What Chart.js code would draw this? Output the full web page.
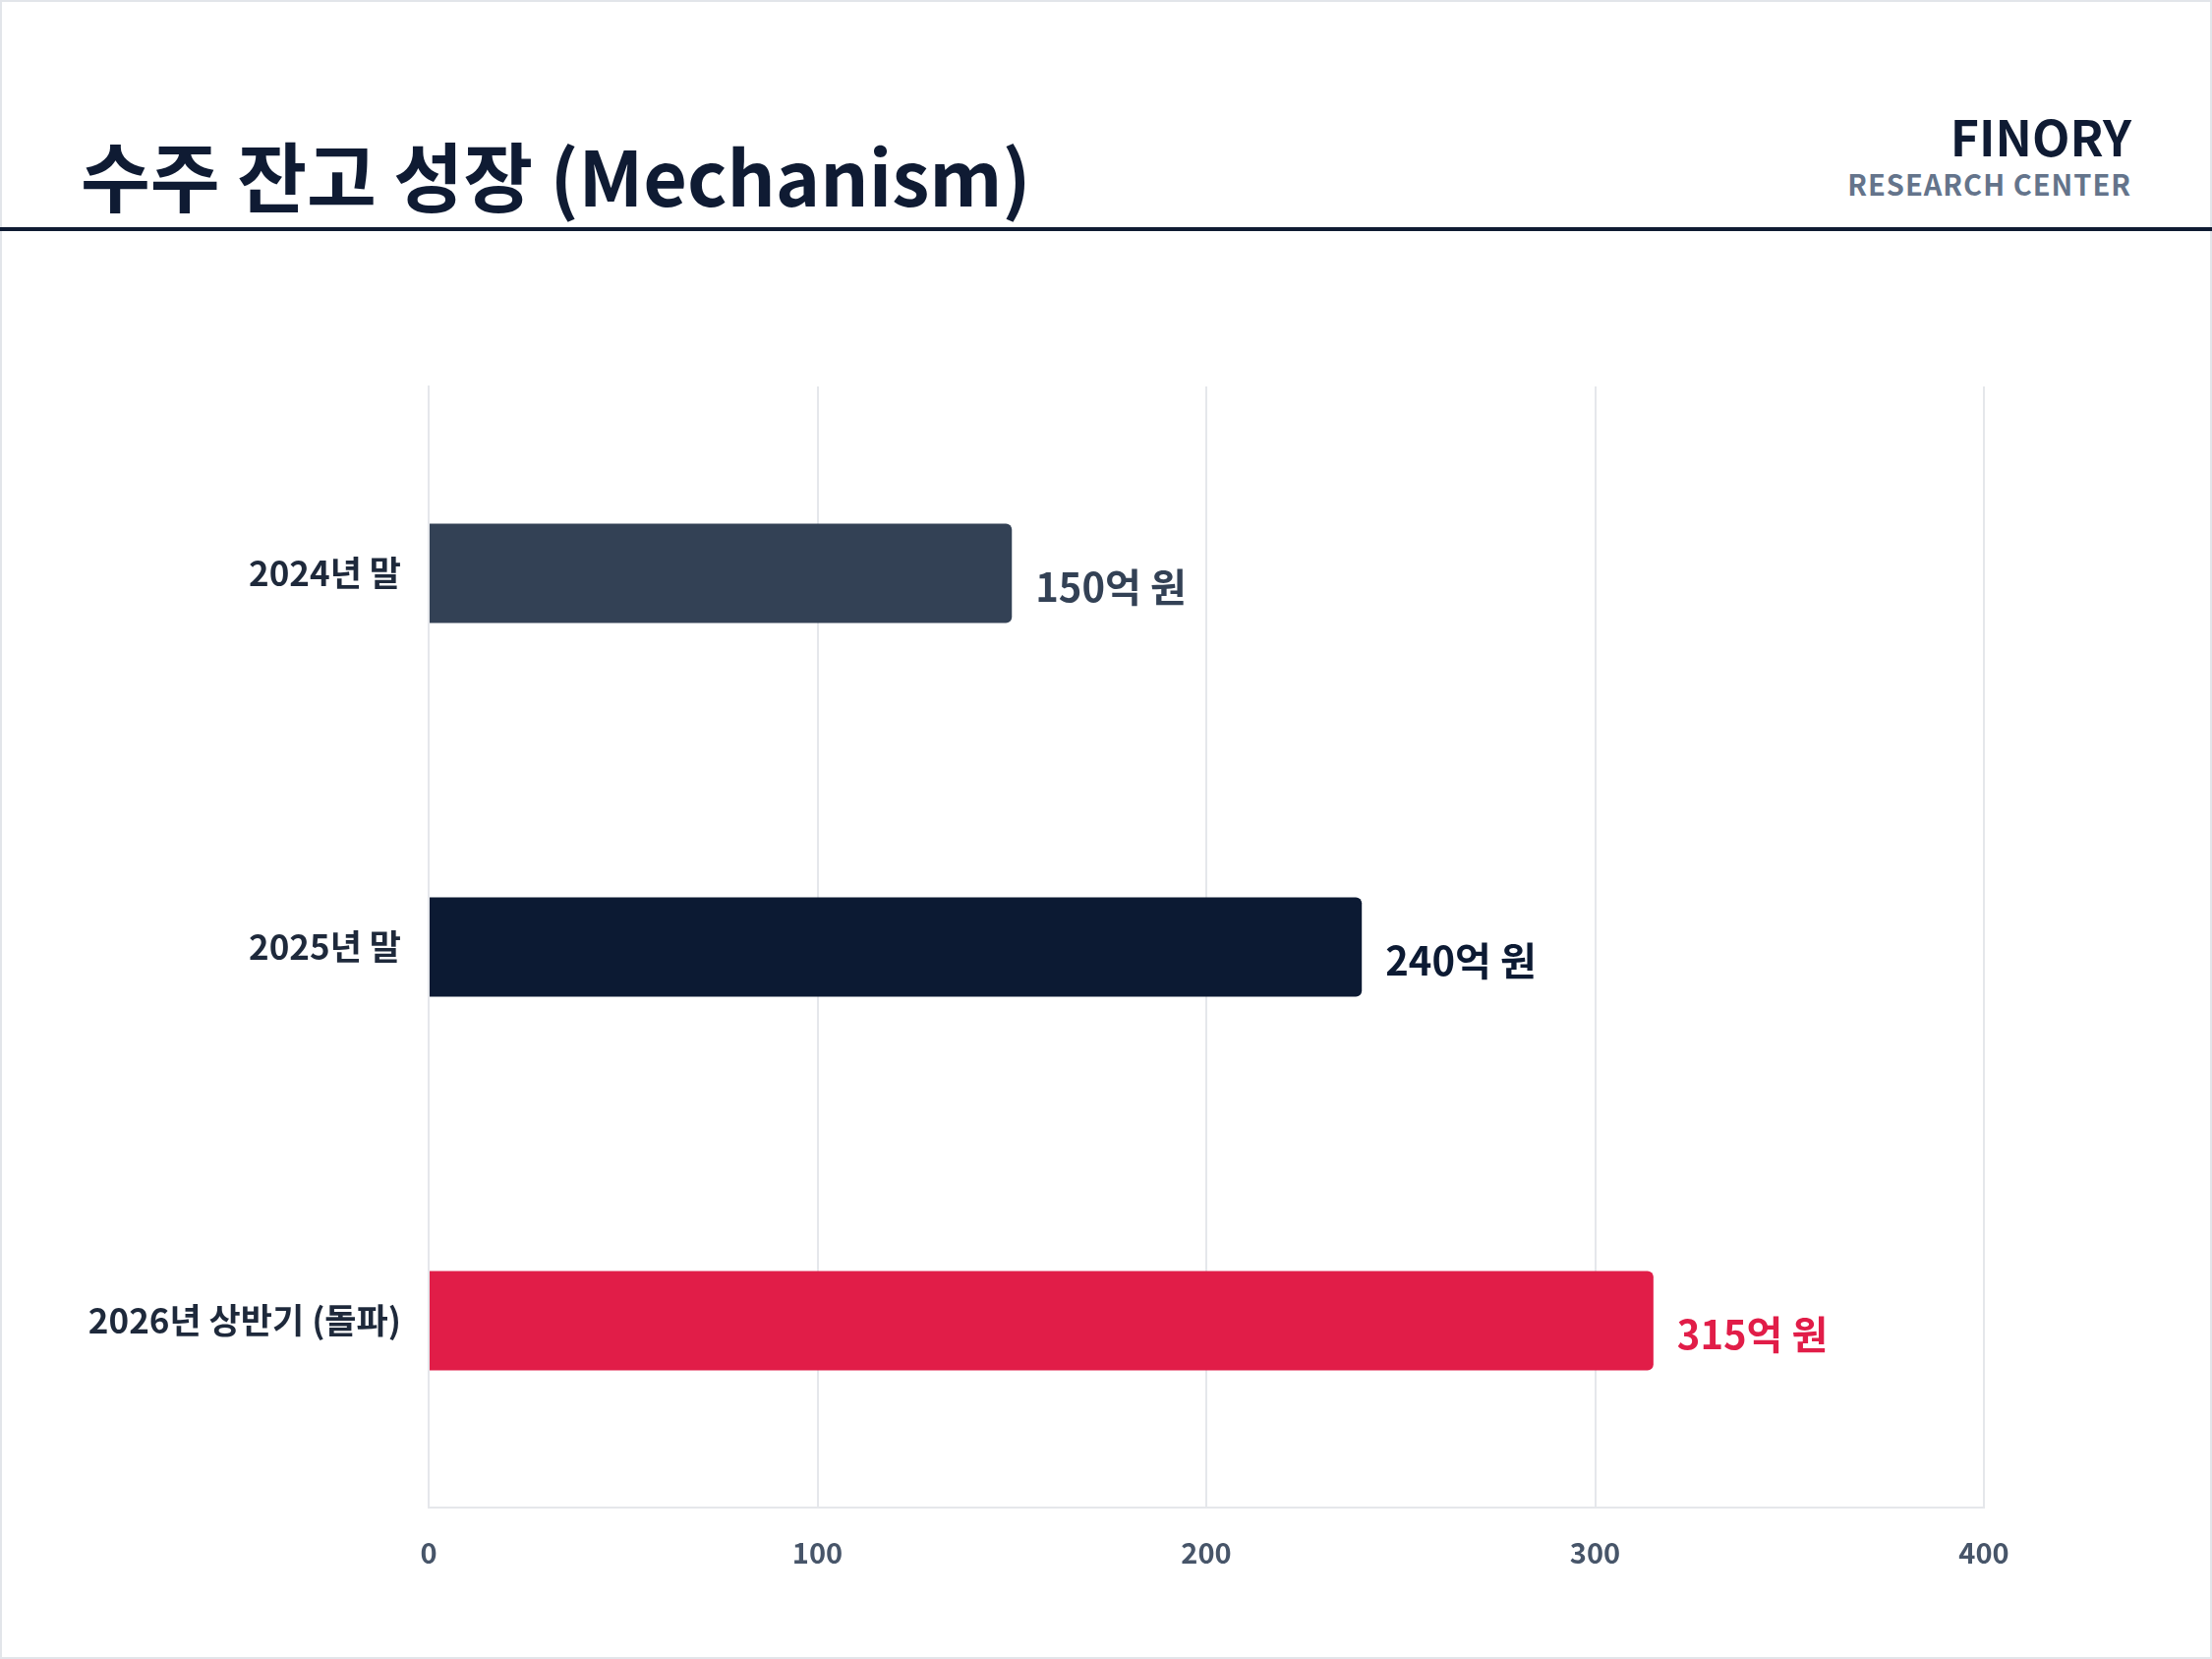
<!DOCTYPE html>
<html><head><meta charset="utf-8">
<script src="https://cdn.jsdelivr.net/npm/chart.js@4"></script>
<style>
body{margin:0;width:2250px;height:1687px;background:#fff;font-family:"Noto Sans CJK KR","Noto Sans",sans-serif;overflow:hidden}
.frame{position:absolute;left:0;top:0;width:2246px;height:1683px;border:2px solid #e2e5ea}
h1{position:absolute;left:82px;top:138px;margin:0;font-size:77px;font-weight:700;color:#0f1b33;line-height:1}
.brand{position:absolute;right:82px;top:112px;text-align:right}
.brand .b1{font-size:50px;font-weight:700;color:#0f1b33;line-height:1}
.brand .b2{font-size:29px;font-weight:700;color:#64748b;margin-top:10px;line-height:1;letter-spacing:1px}
.rule{position:absolute;left:0;top:231px;width:2250px;height:4px;background:#0f1b33}
#wrap{position:absolute;left:0;top:352px;width:2250px;height:1261px}
</style></head><body>
<div class="frame"></div>
<h1>수주 잔고 성장 (Mechanism)</h1>
<div class="brand"><div class="b1">FINORY</div><div class="b2">RESEARCH CENTER</div></div>
<div class="rule"></div>
<div id="wrap"><canvas id="c"></canvas></div>
<script>
const categories = ["2024년 말", "2025년 말", "2026년 상반기 (돌파)"];
const values = [150, 240, 315];
const valueLabels = ["150억 원", "240억 원", "315억 원"];
const barColors = ["#334155", "#0c1a33", "#e11d48"];
const labelColors = ["#334155", "#0c1a33", "#e11d48"];
const FONT = '"Noto Sans CJK KR","Noto Sans",sans-serif';

const valueLabelPlugin = {
  id: "valueLabels",
  afterDatasetsDraw(chart) {
    const ctx = chart.ctx;
    const meta = chart.getDatasetMeta(0);
    ctx.save();
    ctx.font = "bold 40px " + FONT;
    ctx.textBaseline = "middle";
    meta.data.forEach((bar, i) => {
      ctx.fillStyle = labelColors[i];
      ctx.fillText(valueLabels[i], bar.x + 24, bar.y + 14);
    });
    ctx.restore();
  }
};

new Chart(document.getElementById("c"), {
  type: "bar",
  data: {
    labels: categories,
    datasets: [{
      data: values,
      backgroundColor: barColors,
      borderRadius: {topRight: 6, bottomRight: 6},
      borderSkipped: false,
      categoryPercentage: 0.266,
      barPercentage: 1
    }]
  },
  options: {
    indexAxis: "y",
    responsive: true,
    maintainAspectRatio: false,
    animation: false,
    layout: {padding: {right: 232, top: 0, left: 0, bottom: 0}},
    scales: {
      x: {
        min: 0, max: 400,
        ticks: {stepSize: 100, color: "#475569", font: {family: FONT, size: 29, weight: "bold"}, padding: 29},
        grid: {color: "#e5e7eb", lineWidth: 2, drawTicks: false},
        border: {color: "#e5e7eb", width: 2},
        afterFit: s => { s.height = 80; }
      },
      y: {
        ticks: {color: "#1e293b", font: {family: FONT, size: 35, weight: "bold"}, padding: 20},
        grid: {display: false},
        border: {color: "#e5e7eb", width: 2},
        afterFit: s => { s.width = 436; }
      }
    },
    plugins: {legend: {display: false}, tooltip: {enabled: false}}
  },
  plugins: [valueLabelPlugin]
});
</script>
</body></html>
